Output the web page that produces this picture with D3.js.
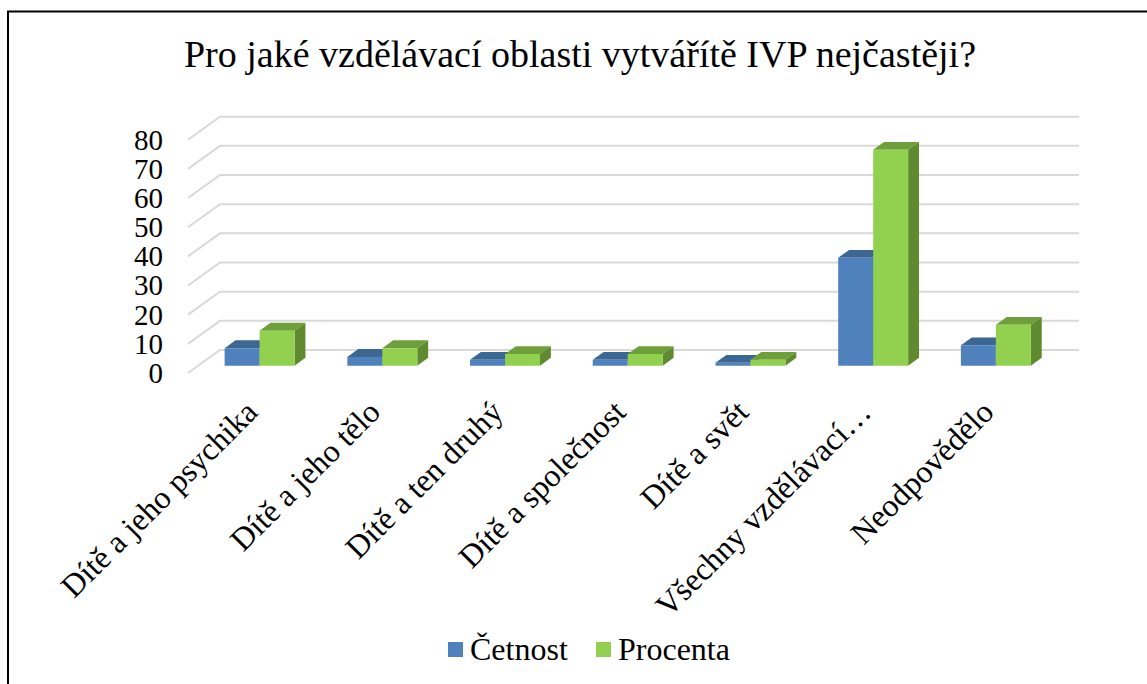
<!DOCTYPE html>
<html>
<head>
<meta charset="utf-8">
<script src="https://cdn.jsdelivr.net/npm/d3@7"></script>
<style>
  body { margin: 0; background: #fff; }
  svg text { font-family: "Liberation Serif", "Tinos", "DejaVu Serif", "Times New Roman", serif; }
</style>
</head>
<body>
<svg id="chart" width="1147" height="684"></svg>
<script>
// data
let categories = ['Dítě a jeho psychika', 'Dítě a jeho tělo', 'Dítě a ten druhý', 'Dítě a společnost',
    'Dítě a svět', 'Všechny vzdělávací…', 'Neodpovědělo'];
let cetnost = [6, 3, 2, 2, 1, 37, 7];
let procenta = [12, 6, 4, 4, 2, 74, 14];
let seriesNames = ['Četnost', 'Procenta'];
let yTicks = [0, 10, 20, 30, 40, 50, 60, 70, 80];

let width = 1147, height = 684;
let svg = d3.select('#chart');

// front plane origin + depth offset of the 3d box
let x0 = 188, y0 = 373;
let depthX = 32, depthY = -23;
let zFront = 0.32, zBack = 0.66;

let xscale = d3.scaleBand()
    .domain(categories)
    .range([0, 859])
    .paddingInner(0.43)
    .paddingOuter(0.215);

let xsub = d3.scaleBand()
    .domain(seriesNames)
    .range([0, xscale.bandwidth()]);

let yscale = d3.scaleLinear()
    .domain([0, 80])
    .range([0, 233.3]);

// project (x, value, depth) to screen
function proj(x, v, z) {
    return [x0 + x + z * depthX, y0 - yscale(v) + z * depthY];
}

let colors = {
    'Četnost': { front: '#4f81bd', top: '#3c6793', side: '#385f8a' },
    'Procenta': { front: '#92d050', top: '#6f9f3b', side: '#5f8a30' }
};

// border
svg.append('path')
    .attr('d', `M8,${height + 2}V11.5H${width + 2}`)
    .attr('fill', 'none')
    .attr('stroke', '#000')
    .attr('stroke-width', 2);

// title
svg.append('text')
    .attr('x', 580)
    .attr('y', 67)
    .attr('text-anchor', 'middle')
    .style('font-size', '38px')
    .text('Pro jaké vzdělávací oblasti vytvářítě IVP nejčastěji?');

// gridlines: side wall + back wall
let grid = svg.append('g').attr('class', 'grid');
yTicks.forEach((t) => {
    let a = proj(0, t, 0), b = proj(0, t, 1), c = proj(859, t, 1);
    grid.append('path')
        .attr('d', `M${a}L${b}L${c}`)
        .attr('fill', 'none')
        .attr('stroke', '#d9d9d9')
        .attr('stroke-width', 2);
});

// y labels
svg.append('g').selectAll('text')
    .data(yTicks)
    .join('text')
    .attr('x', 163)
    .attr('y', d => proj(0, d, 0)[1])
    .attr('dy', '0.34em')
    .attr('text-anchor', 'end')
    .style('font-size', '29px')
    .text(d => d);

// bars
let rows = [];
categories.forEach((c, i) => {
    rows.push({ cat: c, series: 'Četnost', value: cetnost[i] });
    rows.push({ cat: c, series: 'Procenta', value: procenta[i] });
});

function poly(pts) {
    return 'M' + pts.map(p => p.join(',')).join('L') + 'Z';
}

let bars = svg.append('g').selectAll('g')
    .data(rows)
    .join('g');

bars.each(function(d) {
    let g = d3.select(this);
    let xl = xscale(d.cat) + xsub(d.series);
    let xr = xl + xsub.bandwidth();
    let col = colors[d.series];
    // top
    g.append('path')
        .attr('d', poly([proj(xl, d.value, zFront), proj(xr, d.value, zFront), proj(xr, d.value, zBack), proj(xl, d.value, zBack)]))
        .attr('fill', col.top);
    // side
    g.append('path')
        .attr('d', poly([proj(xr, 0, zFront), proj(xr, d.value, zFront), proj(xr, d.value, zBack), proj(xr, 0, zBack)]))
        .attr('fill', col.side);
    // front
    g.append('path')
        .attr('d', poly([proj(xl, 0, zFront), proj(xr, 0, zFront), proj(xr, d.value, zFront), proj(xl, d.value, zFront)]))
        .attr('fill', col.front);
});

// x labels
svg.append('g').selectAll('text')
    .data(categories)
    .join('text')
    .attr('transform', d => `translate(${x0 + xscale(d) + xscale.bandwidth() / 2 + 10},414)rotate(-45)`)
    .attr('text-anchor', 'end')
    .style('font-size', '32px')
    .text(d => d);

// legend
let legend = svg.append('g');
let legendX = [448, 596];
let legendText = [470, 618];
seriesNames.forEach((s, i) => {
    legend.append('rect')
        .attr('x', legendX[i]).attr('y', 642)
        .attr('width', 15).attr('height', 15)
        .attr('fill', colors[s].front);
    legend.append('text')
        .attr('x', legendText[i]).attr('y', 660)
        .style('font-size', '32px')
        .text(s);
});
</script>
</body>
</html>
